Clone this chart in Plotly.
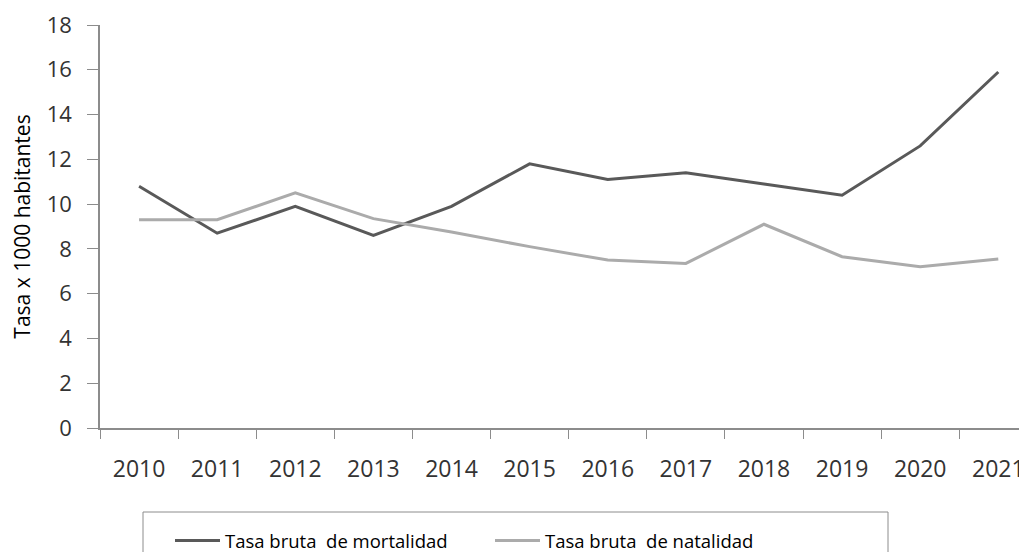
import plotly.graph_objects as go

# Datos
anios = ['2010', '2011', '2012', '2013', '2014', '2015', '2016', '2017', '2018', '2019', '2020', '2021']
mortalidad = [10.8, 8.7, 9.9, 8.6, 9.9, 11.8, 11.1, 11.4, 10.9, 10.4, 12.6, 15.9]
natalidad = [9.3, 9.3, 10.5, 9.35, 8.75, 8.1, 7.5, 7.35, 9.1, 7.65, 7.2, 7.55]
y_ticks = [0, 2, 4, 6, 8, 10, 12, 14, 16, 18]

# la pagina deja 8 px de margen (body), se descuenta en todas las posiciones
off = 8
W, H = 1027, 552
ml, mr, mt = 100 - off, 0, 25 - off
mb = H - (428 - off)
pw = W - ml - mr
ph = H - mt - mb

def px_x(x):
    return (x - off - ml) / pw

def px_y(y):
    return (H - mb - (y - off)) / ph

fuente = 'Open Sans'

fig = go.Figure()
fig.add_trace(go.Scatter(x=anios, y=mortalidad, mode='lines', name='Tasa bruta  de mortalidad',
                         line=dict(color='#595959', width=3)))
fig.add_trace(go.Scatter(x=anios, y=natalidad, mode='lines', name='Tasa bruta  de natalidad',
                         line=dict(color='#ababab', width=3)))

# caja de la leyenda
fig.add_shape(type='rect', xref='paper', yref='paper',
              x0=px_x(143), x1=px_x(888), y0=px_y(575), y1=px_y(512),
              line=dict(color='#8c8c8c', width=1), fillcolor='rgba(0,0,0,0)')

fig.update_layout(
    width=W, height=H,
    margin=dict(l=ml, r=mr, t=mt, b=mb, autoexpand=False),
    plot_bgcolor='white', paper_bgcolor='white',
    font=dict(family=fuente, color='#262626'),
    showlegend=True,
    legend=dict(orientation='h', x=px_x(170), y=px_y(522), xanchor='left', yanchor='top',
                bgcolor='rgba(0,0,0,0)', borderwidth=0,
                font=dict(family=fuente, size=18.5, color='#000000'),
                itemwidth=45, entrywidth=260, tracegroupgap=0),
    xaxis=dict(type='category', range=[-0.5, 11.47], showgrid=False, automargin=False,
               showline=True, linecolor='#8c8c8c', linewidth=1.5,
               ticks='outside', tickson='boundaries', ticklen=9, tickcolor='#8c8c8c',
               tickfont=dict(size=23, color='#333333'), ticklabelstandoff=20,
               ticklabeloverflow='allow'),
    yaxis=dict(range=[0, 18], tickvals=y_ticks, showgrid=False, zeroline=False, automargin=False,
               showline=True, linecolor='#8c8c8c', linewidth=1.5,
               ticks='outside', ticklen=11, tickcolor='#8c8c8c',
               tickfont=dict(size=22, color='#333333'), ticklabelstandoff=11,
               ticklabeloverflow='allow',
               title=dict(text='Tasa x 1000 habitantes', font=dict(size=21, color='#000000'), standoff=12)),
)

fig.write_html('out.html')
